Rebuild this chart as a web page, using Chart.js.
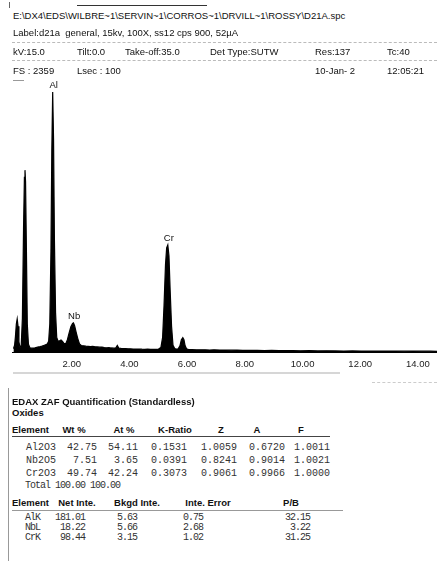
<!DOCTYPE html>
<html>
<head>
<meta charset="utf-8">
<script src="https://cdn.jsdelivr.net/npm/chart.js@4.4.1/dist/chart.umd.min.js"></script>
<style>
  html, body { margin:0; padding:0; background:#fff; }
  body { width:437px; height:561px; position:relative; overflow:hidden; font-family:"Liberation Sans", Arial, sans-serif; color:#111; }
  .t { position:absolute; white-space:pre; line-height:1; }
  .h { font-size:9.5px; }
  .b { font-weight:bold; font-size:9.5px; }
  .m { font-family:"Liberation Mono", "DejaVu Sans Mono", monospace; font-size:10px; color:#333; }
  .ln { position:absolute; height:0; }
  #wrap { position:absolute; left:0; top:80px; width:437px; height:300px; }
</style>
</head>
<body>
<div id="wrap"><canvas id="c"></canvas></div>
<div id="overlay"></div>
<script>
// ---- Spectrum data ----
const energyKeV = [0.05,0.09,0.12,0.15,0.18,0.21,0.24,0.28,0.32,0.36,0.40,0.43,0.45,0.47,0.50,0.53,0.57,0.62,0.68,0.74,0.80,0.86,0.92,0.98,1.04,1.10,1.16,1.22,1.27,1.31,1.35,1.38,1.41,1.44,1.47,1.51,1.55,1.60,1.65,1.70,1.75,1.80,1.86,1.92,1.98,2.04,2.10,2.13,2.17,2.22,2.28,2.34,2.40,2.48,2.56,2.64,2.72,2.80,2.88,2.96,3.04,3.12,3.20,3.28,3.36,3.44,3.52,3.60,3.65,3.70,3.78,3.86,3.94,4.02,4.10,4.20,4.30,4.40,4.50,4.60,4.70,4.80,4.90,5.00,5.08,5.16,5.22,5.27,5.32,5.36,5.40,5.44,5.48,5.53,5.58,5.64,5.70,5.76,5.82,5.87,5.92,5.96,6.00,6.05,6.12,6.25,6.40,6.55,6.70,6.85,7.00,7.20,7.40,7.60,7.80,8.00,8.25,8.50,8.75,9.00,9.25,9.50,9.75,10.00,10.30,10.60,10.90,11.20,11.50,11.80,12.10,12.40,12.70,13.00,13.30,13.60,13.90,14.20,14.50,14.73];
const counts    = [30,60,140,250,295,230,90,36,60,300,1100,1560,1625,1520,900,250,70,38,34,36,38,42,45,48,52,58,64,72,95,250,900,1800,2323,1900,1000,350,130,95,100,108,95,78,72,110,170,225,255,260,235,180,120,72,58,55,52,50,48,50,46,45,43,44,40,38,39,36,34,38,58,36,32,30,31,28,29,27,26,27,25,24,25,24,23,24,26,40,130,420,780,930,956,860,560,230,60,30,26,28,55,110,128,110,55,28,22,21,20,19,20,18,19,17,18,16,17,15,14,15,13,14,12,13,12,11,12,10,11,10,9,10,9,8,9,8,8,7,8,7,7,6];
const tickValues = [2,4,6,8,10,12,14];
const tickLabels = ['2.00','4.00','6.00','8.00','10.00','12.00','14.00'];
const fullScale = 2359;
const peakNames  = ['Al','Nb','Cr'];
const peakKeV    = [1.41, 2.12, 5.40];
const peakCounts = [2323, 260, 956];

// ---- Header / table text ----
const headerLine1 = 'E:\\DX4\\EDS\\WILBRE~1\\SERVIN~1\\CORROS~1\\DRVILL~1\\ROSSY\\D21A.spc';
const headerLine2 = 'Label:d21a  general, 15kv, 100X, ss12 cps 900, 52\u00b5A';
const headerRow3 = ['kV:15.0','Tilt:0.0','Take-off:35.0','Det Type:SUTW','Res:137','Tc:40'];
const headerRow4 = ['FS : 2359','Lsec : 100','','','10-Jan- 2','12:05:21'];
const quantTitle = 'EDAX ZAF Quantification (Standardless)';
const quantSub = 'Oxides';
const t1Head = ['Element','Wt %','At %','K-Ratio','Z','A','F'];
const t1Names = ['Al2O3','Nb2O5','Cr2O3'];
const t1Wt = ['42.75','7.51','49.74'];
const t1At = ['54.11','3.65','42.24'];
const t1K  = ['0.1531','0.0391','0.3073'];
const t1Z  = ['1.0059','0.8241','0.9061'];
const t1A  = ['0.6720','0.9014','0.9966'];
const t1F  = ['1.0011','1.0021','1.0000'];
const t1Total = ['Total','100.00','100.00'];
const t2Head = ['Element','Net Inte.','Bkgd Inte.','Inte. Error','P/B'];
const t2Names = ['AlK','NbL','CrK'];
const t2Net = ['181.01','18.22','98.44'];
const t2Bkg = ['5.63','5.66','3.15'];
const t2Err = ['0.75','2.68','1.02'];
const t2PB  = ['32.15','3.22','31.25'];

// ---- build overlay text ----
const ov = document.getElementById('overlay');
function txt(s, x, yc, cls, align, fs, extra) {
  const d = document.createElement('div');
  d.className = 't ' + cls;
  d.textContent = s;
  const h = fs || 10;
  d.style.top = (yc - h * 0.55) + 'px';
  if (extra) Object.assign(d.style, extra);
  if (align === 'right') { d.style.right = (437 - x) + 'px'; }
  else if (align === 'center') { d.style.left = (x - 60) + 'px'; d.style.width = '120px'; d.style.textAlign = 'center'; }
  else d.style.left = x + 'px';
  ov.appendChild(d);
}
function line(x1, x2, y, color, w, style) {
  const d = document.createElement('div');
  d.className = 'ln';
  d.style.left = x1 + 'px'; d.style.width = (x2 - x1) + 'px'; d.style.top = y + 'px';
  d.style.borderTop = (w || 1) + 'px ' + (style || 'solid') + ' ' + color;
  ov.appendChild(d);
}
function vline(x, y1, y2, color) {
  const d = document.createElement('div');
  d.style.position = 'absolute'; d.style.left = x + 'px'; d.style.top = y1 + 'px';
  d.style.height = (y2 - y1) + 'px'; d.style.borderLeft = '1px solid ' + color;
  ov.appendChild(d);
}
// decorations
line(77, 207, 5, '#333', 1);
vline(9, 2, 8, '#666');
line(12, 437, 42, '#bbb', 1, 'dashed');
line(12, 437, 60, '#bbb', 1, 'dashed');
line(13, 24, 80, '#999', 1);
// header text
txt(headerLine1, 13, 16, 'h', 'left', 9.5);
txt(headerLine2, 13, 33, 'h', 'left', 9.5);
const hx = [13, 77, 125, 210, 315, 387];
headerRow3.forEach((s, i) => txt(s, hx[i], 52, 'h', 'left', 9.5));
headerRow4.forEach((s, i) => { if (s) txt(s, hx[i], 71, 'h', 'left', 9.5); });

// lower decorations
line(13, 340, 372, '#d6d6d6', 2);
line(372, 437, 382, '#ccc', 1, 'dashed');
vline(8, 388, 561, '#999');

// quantification text
txt(quantTitle, 12, 402, 'b', 'left', 9.5);
txt(quantSub, 12, 413, 'b', 'left', 9.5);
// table 1
const t1HeadX = [12, 74, 124, 175, 221, 257, 301];
t1Head.forEach((s, i) => txt(s, t1HeadX[i], 430, 'b', i === 0 ? 'left' : 'center', 9.5));
line(12, 330, 436, '#444', 1);
const t1RowY = [448, 461, 474];
const t1Right = [97, 138, 187, 237, 285, 330];
t1Names.forEach((n, r) => {
  txt(n, 26, t1RowY[r], 'm', 'left', 10);
  [t1Wt, t1At, t1K, t1Z, t1A, t1F].forEach((col, c) => txt(col[r], t1Right[c], t1RowY[r], 'm', 'right', 10));
});
const tight = { letterSpacing: '-1px' };
txt(t1Total[0], 25, 486, 'm', 'left', 10, tight);
txt(t1Total[1], 85, 486, 'm', 'right', 10, tight);
txt(t1Total[2], 120, 486, 'm', 'right', 10, tight);
// table 2
const t2HeadX = [12, 77, 137, 208, 291];
t2Head.forEach((s, i) => txt(s, t2HeadX[i], 503, 'b', i === 0 ? 'left' : 'center', 9.5));
line(12, 343, 510, '#999', 1);
const t2RowY = [518, 528, 538];
const t2Right = [85, 137, 203, 310];
t2Names.forEach((n, r) => {
  txt(n, 25, t2RowY[r], 'm', 'left', 10, tight);
  [t2Net, t2Bkg, t2Err, t2PB].forEach((col, c) => txt(col[r], t2Right[c], t2RowY[r], 'm', 'right', 10, tight));
});

// ---- chart ----
const points = energyKeV.map((e, i) => ({ x: e, y: counts[i] }));
const labelPlugin = {
  id: 'peakAndTickLabels',
  afterDraw(chart) {
    const ctx = chart.ctx, xs = chart.scales.x, ys = chart.scales.y;
    ctx.save();
    ctx.fillStyle = '#111';
    ctx.font = '9.5px "Liberation Sans", Arial, sans-serif';
    ctx.textAlign = 'center';
    ctx.textBaseline = 'bottom';
    peakNames.forEach((n, i) => {
      ctx.fillText(n, xs.getPixelForValue(peakKeV[i]) + 1, ys.getPixelForValue(peakCounts[i]) - 2);
    });
    ctx.fillStyle = '#222';
    ctx.textBaseline = 'middle';
    tickValues.forEach((v, i) => {
      ctx.fillText(tickLabels[i], xs.getPixelForValue(v) + 2, xs.top + 12);
    });
    ctx.restore();
  }
};
new Chart(document.getElementById('c'), {
  type: 'line',
  data: { datasets: [{
    data: points,
    borderColor: '#000', backgroundColor: '#000', borderWidth: 1.2,
    fill: 'origin', pointRadius: 0, tension: 0
  }]},
  options: {
    responsive: true, maintainAspectRatio: false, animation: false,
    layout: { padding: { left: 12, right: 0, top: 8, bottom: 8 } },
    plugins: { legend: { display: false }, tooltip: { enabled: false } },
    scales: {
      x: {
        type: 'linear', min: 0, max: 14.73,
        afterBuildTicks: (axis) => { axis.ticks = tickValues.map(v => ({ value: v })); },
        afterFit: (s) => { s.height = 20; },
        grid: { display: false, drawTicks: false },
        border: { display: true, color: '#000', width: 1 },
        ticks: { display: false }
      },
      y: { display: false, min: 0, max: fullScale }
    }
  },
  plugins: [labelPlugin]
});
</script>
</body>
</html>
